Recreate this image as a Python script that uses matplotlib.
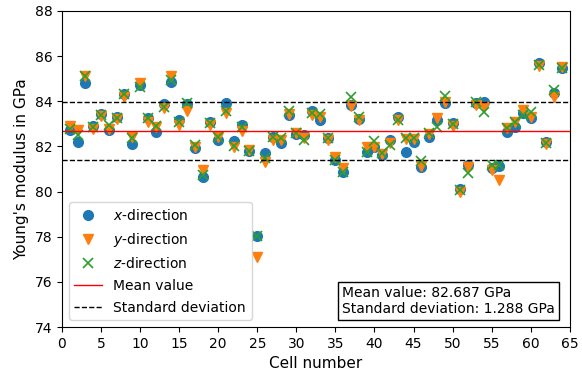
import numpy as np
import matplotlib
matplotlib.use("Agg")
import matplotlib.pyplot as plt

cells = np.arange(1, 65)

x_dir = [82.73, 82.21, 84.82, 82.90, 83.44, 82.73, 83.29, 84.32, 82.10, 84.72,
         83.24, 82.65, 83.88, 84.87, 83.17, 83.88, 81.92, 80.66, 83.10, 82.28,
         83.94, 82.24, 82.95, 81.80, 78.03, 81.69, 82.43, 82.14, 83.39, 82.54,
         82.50, 83.58, 83.17, 82.36, 81.40, 80.88, 83.84, 83.20, 81.77, 81.96,
         81.62, 82.28, 83.29, 81.73, 82.21, 81.10, 82.43, 83.17, 83.91, 83.03,
         80.10, 81.18, 83.94, 83.98, 81.03, 81.13, 82.65, 82.85, 83.49, 83.24,
         85.71, 82.21, 84.35, 85.46]

y_dir = [82.90, 82.73, 85.12, 82.76, 83.35, 82.75, 83.20, 84.17, 82.40, 84.80,
         83.10, 82.85, 83.69, 85.12, 82.95, 83.58, 81.99, 80.96, 82.95, 82.43,
         83.47, 81.99, 82.70, 81.84, 77.10, 81.32, 82.28, 82.28, 83.44, 82.58,
         82.36, 83.39, 83.29, 82.30, 81.54, 81.03, 83.80, 83.17, 81.96, 81.99,
         81.65, 82.14, 83.17, 82.31, 82.31, 81.13, 82.55, 83.24, 83.98, 82.90,
         79.99, 81.07, 83.84, 83.76, 80.96, 80.51, 82.80, 83.10, 83.61, 83.32,
         85.56, 82.10, 84.17, 85.53]

z_dir = [82.75, 82.50, 85.10, 82.85, 83.40, 82.95, 83.25, 84.30, 82.35, 84.65,
         83.24, 82.90, 83.76, 84.94, 83.10, 83.91, 82.06, 80.73, 83.03, 82.43,
         83.57, 82.02, 82.87, 81.80, 78.03, 81.47, 82.43, 82.36, 83.58, 82.58,
         82.30, 83.50, 83.44, 82.36, 81.40, 80.85, 84.17, 83.29, 81.77, 82.25,
         81.70, 82.06, 83.17, 82.35, 82.36, 81.37, 82.58, 82.87, 84.23, 82.98,
         80.05, 80.80, 83.98, 83.54, 81.18, 81.18, 82.80, 83.10, 83.39, 83.54,
         85.60, 82.14, 84.50, 85.46]

mean_value = 82.687
std_value = 1.288

fig = plt.figure(figsize=(5.82, 3.77), dpi=100)
ax = fig.add_axes([0.1065, 0.1326, 0.8725, 0.8384])

ax.plot(cells, x_dir, "o", color="tab:blue", ms=7, label="$x$-direction")
ax.plot(cells, y_dir, "v", color="tab:orange", ms=7, label="$y$-direction")
ax.plot(cells, z_dir, "x", color="tab:green", ms=7, mew=1.2, label="$z$-direction")

ax.axhline(mean_value, color="red", lw=1.0, label="Mean value")
ax.axhline(mean_value + std_value, color="black", ls="--", lw=1.0,
           label="Standard deviation")
ax.axhline(mean_value - std_value, color="black", ls="--", lw=1.0)

ax.set_xlim(0, 65)
ax.set_ylim(74, 88)
ax.set_xticks(np.arange(0, 66, 5))
ax.set_yticks(np.arange(74, 89, 2))
ax.tick_params(labelsize=10)
ax.set_xlabel("Cell number", fontsize=11)
ax.set_ylabel("Young's modulus in GPa", fontsize=11)

ax.legend(loc="lower left", fontsize=10, labelspacing=0.55)

ax.text(0.551, 0.035,
        f"Mean value: {mean_value:.3f} GPa\nStandard deviation: {std_value:.3f} GPa",
        transform=ax.transAxes, fontsize=10, va="bottom", ha="left",
        bbox=dict(boxstyle="square,pad=0.3", facecolor="white", edgecolor="black"))

fig.savefig("out.png", dpi=100)
